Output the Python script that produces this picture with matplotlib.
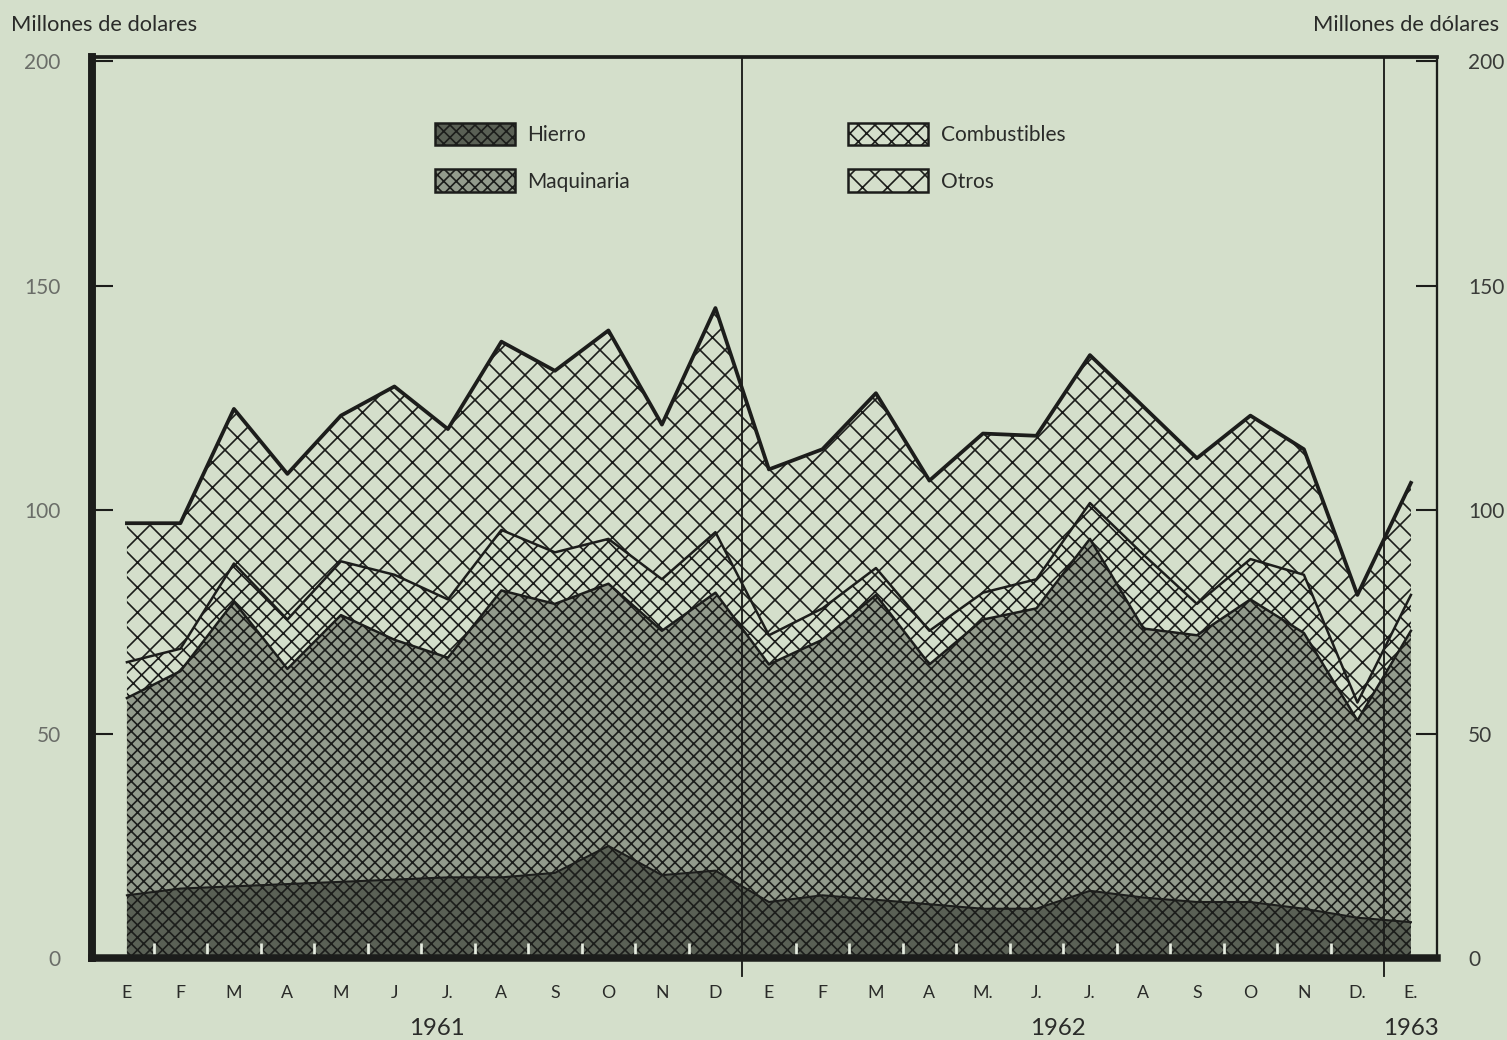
import matplotlib
matplotlib.use("Agg")
import matplotlib.pyplot as plt
import matplotlib.patches as mpatches
import numpy as np

# -----------------------------
# Data (millones de dolares, mensual E 1961 - E 1963)
# -----------------------------
month_labels = ["E", "F", "M", "A", "M", "J", "J.", "A", "S", "O", "N", "D",
                "E", "F", "M", "A", "M.", "J.", "J.", "A", "S", "O", "N", "D.",
                "E."]
year_labels = ["1961", "1962", "1963"]
year_label_pos = [5.8, 17.4, 24.0]
year_dividers = [11.5, 23.5]

hierro = [14, 15.5, 16, 16.5, 17, 17.5, 18, 18, 19, 25, 18.5, 19.5,
          12.5, 14, 13, 12, 11, 11, 15, 13.5, 12.5, 12.5, 11, 9, 8]
maquinaria = [44, 48.5, 63.5, 48, 59.5, 53.5, 49, 64, 60, 58.5, 54.5, 62,
              53, 57, 68, 53.5, 64.5, 67, 78.5, 60, 59.5, 67.5, 61.5, 44, 65]
combustibles = [8, 5, 8.5, 11, 12, 14.5, 13, 13.5, 11.5, 10, 11.5, 13.5,
                6.5, 7, 6, 7.5, 6, 6.5, 8, 16.5, 7, 9, 13, 4, 8]
otros = [31, 28, 34.5, 32.5, 32.5, 42, 38, 42, 40.5, 46.5, 34.5, 50,
         37, 35.5, 39, 33.5, 35.5, 32, 33, 33, 32.5, 32, 28, 24, 25]

BG = "#d4dfcb"
INK = "#1c1d1b"

plt.rcParams["font.family"] = ["Lato", "DejaVu Sans"]
plt.rcParams["hatch.linewidth"] = 0.8

fig = plt.figure(figsize=(1507 / 150, 1040 / 150), dpi=150, facecolor=BG)
ax = fig.add_axes([0.061, 0.0788, 0.8925, 0.8664], facecolor=BG)

x = np.arange(len(month_labels))
b1 = np.array(hierro)
b2 = b1 + np.array(maquinaria)
b3 = b2 + np.array(combustibles)
b4 = b3 + np.array(otros)

# layers: (lower, upper, facecolor, hatch, label)
layers = [
    (0 * b1, b1, "#5a6055", "xxxx", "Hierro"),
    (b1, b2, "#939b8c", "xxxx", "Maquinaria"),
    (b2, b3, BG, "xxx", "Combustibles"),
    (b3, b4, BG, "xx", "Otros"),
]
for lo, hi, fc, hatch, label in layers:
    ax.fill_between(x, lo, hi, facecolor=fc, edgecolor=INK, hatch=hatch,
                    linewidth=0, zorder=1)

ax.plot(x, b1, color=INK, lw=1.0, zorder=2)
ax.plot(x, b2, color=INK, lw=1.2, zorder=2)
ax.plot(x, b3, color=INK, lw=1.2, zorder=2)
ax.plot(x, b4, color=INK, lw=1.8, zorder=2)

# year dividers
for xd in year_dividers:
    ax.axvline(xd, ymin=-0.02, ymax=1, color=INK, lw=0.9, clip_on=False, zorder=3)

ax.set_xlim(-0.654, 24.486)
ax.set_ylim(0, 201)

# spines
ax.spines["left"].set_linewidth(3.8)
ax.spines["bottom"].set_linewidth(3.6)
ax.spines["top"].set_linewidth(1.8)
ax.spines["right"].set_linewidth(1.1)
for s in ax.spines.values():
    s.set_color(INK)
    s.set_zorder(4)

# y axis on both sides
ax.set_yticks([0, 50, 100, 150, 200])
ax.tick_params(axis="y", which="major", direction="in", length=10, width=1.0,
               color=INK, left=True, right=True, labelleft=True, labelright=True,
               labelsize=10, pad=15)
for t in ax.yaxis.get_major_ticks():
    t.label1.set_color("#6a6d68")
    t.label2.set_color("#3a3c39")

# x axis: month letters, white half-month marks inside
ax.set_xticks(x)
ax.set_xticklabels(month_labels)
ax.tick_params(axis="x", which="major", length=0, pad=13, labelsize=8.5,
               labelcolor="#2a2b29")
half = [i + 0.5 for i in range(len(month_labels) - 1) if i + 0.5 not in year_dividers]
ax.set_xticks(half, minor=True)
ax.tick_params(axis="x", which="minor", direction="in", length=7, width=1.3,
               color="#e6ece0")

for lab, xp in zip(year_labels, year_label_pos):
    ax.text(xp, -0.078, lab, transform=ax.get_xaxis_transform(), ha="center",
            va="center", fontsize=11.5, color="#2a2b29")

fig.text(0.007, 0.976, "Millones de dolares", ha="left", va="center",
         fontsize=10.5, color="#2a2b29")
fig.text(0.995, 0.976, "Millones de dólares", ha="right", va="center",
         fontsize=10.5, color="#2a2b29")


# legends
def legend_handles(items):
    return [mpatches.Patch(facecolor=fc, edgecolor=INK, hatch=h, linewidth=1.2,
                           label=lab) for _, _, fc, h, lab in items]


leg_kw = dict(frameon=False, fontsize=10, handlelength=3.85, handleheight=1.3,
              handletextpad=0.6, labelspacing=1.15, borderpad=0,
              borderaxespad=0, loc="upper left", labelcolor="#2a2b29")
leg1 = ax.legend(handles=legend_handles(layers[:2]),
                 bbox_to_anchor=(0.255, 0.927), **leg_kw)
ax.add_artist(leg1)
ax.legend(handles=legend_handles(layers[2:]),
          bbox_to_anchor=(0.562, 0.927), **leg_kw)

fig.savefig("out.png", dpi=150, facecolor=BG)
